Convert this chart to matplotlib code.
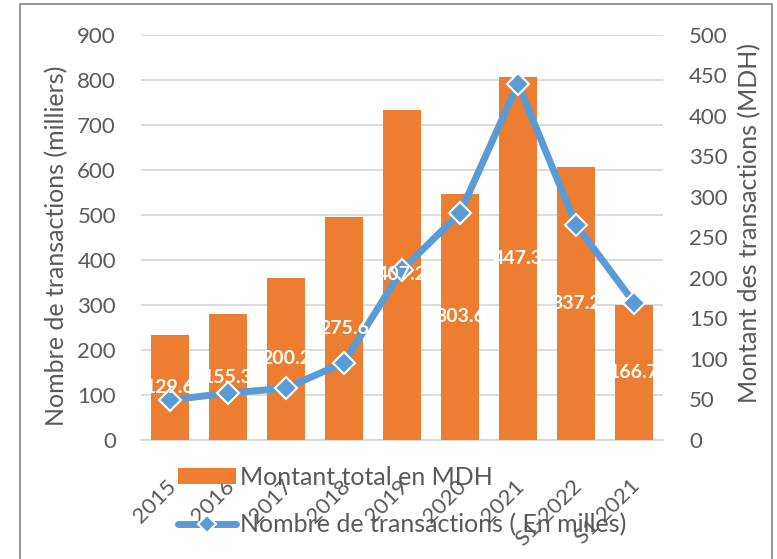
import matplotlib
matplotlib.use("Agg")
import matplotlib.pyplot as plt
import matplotlib.transforms as mtransforms
from matplotlib.patches import Rectangle, Patch
from matplotlib.lines import Line2D

plt.rcParams['font.family'] = ['Lato', 'DejaVu Sans']

categories = ["2015", "2016", "2017", "2018", "2019", "2020", "2021", "S1-2022", "S1 2021"]
montant_mdh = [129.6, 155.3, 200.2, 275.6, 407.2, 303.6, 447.3, 337.2, 166.7]
montant_labels = ["129.6", "155.3", "200.2", "275.6", "407.2", "303.6", "447.3", "337.2", "166.7"]
nombre_transactions = [89, 104, 115, 172, 378, 504, 791, 478, 305]

left_ticks = list(range(0, 1000, 100))
right_ticks = list(range(0, 550, 50))

W, H = 777, 559
fig = plt.figure(figsize=(W / 100, H / 100), dpi=100)
PX = 72 / 100  # points per pixel

# outer border
fig.patches.append(Rectangle((20 / W, 0 - 0.01), (772 - 20) / W, (H - 4) / H + 0.01,
                             transform=fig.transFigure, fill=False,
                             edgecolor='#8c8c8c', linewidth=1.3))

rect = [141 / W, (H - 440) / H, (663 - 141) / W, (440 - 34.7) / H]
ax = fig.add_axes(rect)          # left axis: grid, ticks
ax2 = ax.twinx()                  # right axis: bars
ax3 = fig.add_axes(rect, sharex=ax)  # overlay for line + labels (left-axis scale)

grey = '#595959'
x = list(range(len(categories)))

ax.set_zorder(0)
ax2.set_zorder(1)
ax3.set_zorder(2)
ax2.patch.set_visible(False)
ax3.patch.set_visible(False)

# bars on secondary axis (MDH)
ax2.bar(x, montant_mdh, width=0.665, color='#ED7D31', zorder=2)
ax2.set_ylim(0, 500)
ax2.set_yticks(right_ticks)

ax.set_ylim(0, 900)
ax.set_yticks(left_ticks)
ax.set_xlim(-0.5, len(categories) - 0.5)
ax.yaxis.grid(True, color='#D9D9D9', linewidth=1.3, zorder=0)
ax.set_axisbelow(True)

ax3.set_ylim(0, 900)
ax3.axis('off')

ax3.plot(x, nombre_transactions, color='#5B9BD5', linewidth=5,
         marker='D', markersize=11, markerfacecolor='#5B9BD5',
         markeredgecolor='white', markeredgewidth=1.5,
         solid_capstyle='round', solid_joinstyle='round', zorder=3)

# data labels at bar centers (drawn on top), in MDH units on the right scale
for xi, v, lab in zip(x, montant_mdh, montant_labels):
    ax3.text(xi, v / 2, lab, transform=ax2.transData,
             color='white', fontsize=14, fontweight='bold',
             ha='center', va='center', zorder=5)

for a in (ax, ax2):
    for s in a.spines.values():
        s.set_visible(False)
ax.spines['bottom'].set_visible(True)
ax.spines['bottom'].set_color('#D9D9D9')
ax.spines['bottom'].set_linewidth(1.3)

ax.tick_params(axis='y', length=0, pad=25 * PX, labelsize=16, labelcolor=grey)
ax2.tick_params(axis='y', length=0, pad=26 * PX, labelsize=16, labelcolor=grey)
ax.set_xticks(x)
ax.set_xticklabels(categories)
ax.tick_params(axis='x', length=0, pad=31, labelsize=16, labelcolor=grey)
offset = mtransforms.ScaledTranslation(3 / 100, 0, fig.dpi_scale_trans)
for t in ax.get_xticklabels():
    t.set_rotation(45)
    t.set_rotation_mode('anchor')
    t.set_ha('right')
    t.set_va('center')
    t.set_transform(t.get_transform() + offset)

ax.set_ylabel('Nombre de transactions (milliers)', fontsize=18, color=grey)
ax2.set_ylabel('Montant des transactions (MDH)', fontsize=18, color=grey)
ax.yaxis.set_label_coords((68 - 141) / 522, (440 - 246) / 405.3)
ax2.yaxis.set_label_coords((738 - 141) / 522, (440 - 223) / 405.3)

handles = [Patch(facecolor='#ED7D31', edgecolor='none'),
           Line2D([0], [0], color='#5B9BD5', linewidth=5, marker='D', markersize=9,
                  markerfacecolor='#5B9BD5', markeredgecolor='white', markeredgewidth=1.5,
                  solid_capstyle='round')]
labels = ['Montant total en MDH', 'Nombre de transactions ( En milles)']
leg = fig.legend(handles, labels, loc='upper left', bbox_to_anchor=(178 / W, 1 - 466 / H),
                 frameon=False, fontsize=18, handlelength=2.3, handletextpad=0.2,
                 handleheight=0.6, labelspacing=0.95, borderaxespad=0, borderpad=0)
leg.set_zorder(10)
for t in leg.get_texts():
    t.set_color(grey)

fig.savefig('out.png', dpi=100)
